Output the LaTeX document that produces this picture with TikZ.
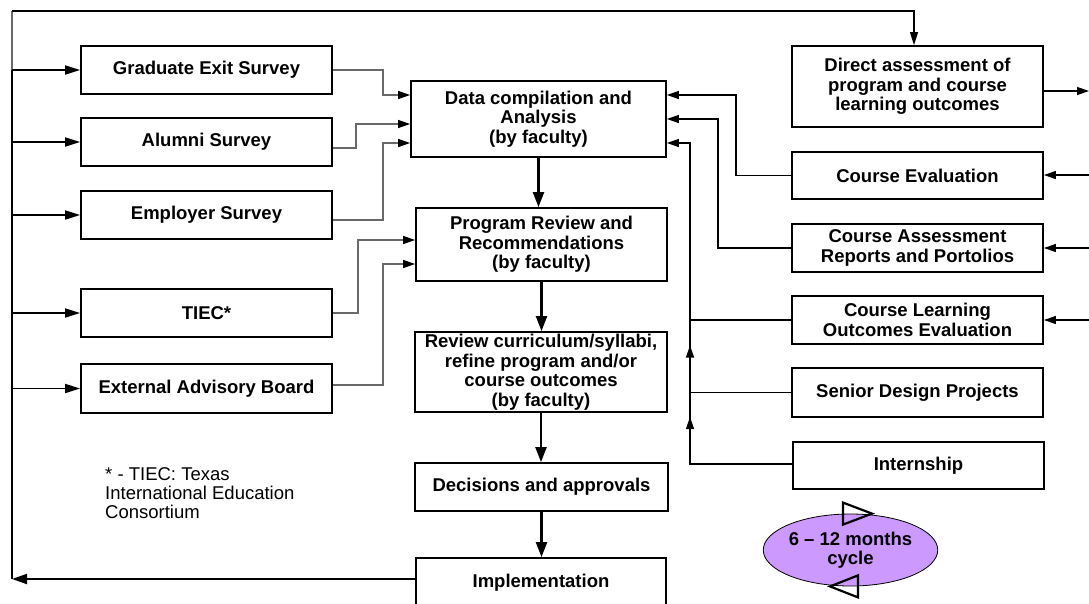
\documentclass[tikz,border=0pt]{standalone}
\usepackage{fontspec}
\setmainfont{Liberation Sans}
\usetikzlibrary{arrows.meta,shapes.geometric}
\definecolor{cyclefill}{RGB}{204,153,255}
\definecolor{lgray}{RGB}{105,105,105}
\tikzset{
  box/.style={draw=black, line width=1.8pt, fill=white, inner sep=0pt, align=center,
    font=\bfseries\fontsize{18.5}{19.5}\selectfont},
  wh/.style 2 args={minimum width=#1pt, minimum height=#2pt},
  gconn/.style={draw=lgray, line width=1.2pt, -{Triangle[length=12pt,width=8pt,color=black]}},
  rconn/.style={draw=black, line width=1.3pt, -{Triangle[length=12pt,width=8pt]}},
  plain/.style={draw=black, line width=1.2pt},
  branch/.style={draw=black, line width=1.8pt, -{Triangle[length=15pt,width=9pt]}},
  bigarrow/.style={draw=black, line width=2.2pt, -{Triangle[length=15pt,width=11pt]}},
  tri/.style={draw=black, line width=2.2pt, line join=miter},
}
\begin{document}
\begin{tikzpicture}[x=1pt,y=-1pt]
\useasboundingbox (0,0) rectangle (1089,603);
\clip (0,0) rectangle (1089,603);

% left boxes
\node[box, wh={251}{48}] (ges) at (206.5,70) {Graduate Exit Survey};
\node[box, wh={251}{48}] (alu) at (206.5,142) {Alumni Survey};
\node[box, wh={251}{48}] (emp) at (206.5,215) {Employer Survey};
\node[box, wh={251}{48}] (tiec) at (206.5,313) {TIEC*};
\node[box, wh={251}{49}] (eab) at (206.5,388.5) {External Advisory Board};

% centre column
\node[box, wh={255}{76}] (dc) at (538.5,119) {Data compilation and\\Analysis\\(by faculty)};
\node[box, wh={251}{73}] (pr) at (541.5,244.5) {Program Review and\\Recommendations\\(by faculty)};
\node[box, wh={252}{80}] (rc) at (541,372) {Review curriculum/syllabi,\\refine program and/or\\course outcomes\\(by faculty)};
\node[box, wh={253}{48}] (dec) at (541.5,487) {Decisions and approvals};
\node[box, wh={250}{50}] (imp) at (541,583) {Implementation};

% right column
\node[box, wh={251}{81}] (da) at (917.5,86.5) {Direct assessment of\\program and course\\learning outcomes};
\node[box, wh={251}{47}] (ce) at (917.5,175.5) {Course Evaluation};
\node[box, wh={251}{48}] (car) at (917.5,248) {Course Assessment\\Reports and Portolios};
\node[box, wh={251}{48}] (clo) at (917.5,320) {Course Learning\\Outcomes Evaluation};
\node[box, wh={251}{49}] (sdp) at (917.5,392.5) {Senior Design Projects};
\node[box, wh={251}{47}] (int) at (918.5,465.5) {Internship};

% footnote
\node[anchor=north west, inner sep=0pt, align=left,
      font=\fontsize{18.5}{19}\selectfont] (note) at (105,467)
  {* - TIEC: Texas\\International Education\\Consortium};

% cycle ellipse
\node[ellipse, draw=black, line width=0.8pt, fill=cyclefill, wh={153}{72}, inner sep=0pt,
      align=center, font=\bfseries\fontsize{18.5}{19.5}\selectfont] (cyc) at (850.5,550)
  {6 -- 12 months\\cycle};
\draw[tri] ([xshift=-7.5pt]cyc.north) ++(0,-11) -- ++(29,11) -- ++(-29,11) -- cycle;
\draw[tri] ([xshift=7.5pt]cyc.south) ++(0,-11) -- ++(-28,11) -- ++(28,11) -- cycle;

% outer feedback loop
\coordinate (bl) at (12,579);
\coordinate (tl) at (12,11);
\draw[line width=2pt, -{Triangle[length=15pt,width=10pt]}] (imp.west |- bl) -- (bl);
\draw[line width=2pt] (bl) -- (12,70);
\draw[draw=lgray, line width=1.2pt] (12,70) -- (tl);
\draw[line width=1.2pt, -{Triangle[length=13pt,width=8pt]}] (tl) -| ([xshift=-3.5pt]da.north);
\foreach \n in {ges,alu,emp,tiec,eab}
  \draw[branch] (\n.west -| bl) -- (\n.west);

% left inputs to centre
\draw[gconn] (ges.east) -| (383,95) -- (dc.west |- 0,95);
\draw[gconn] (alu.east |- 0,148) -| (356,124) -- (dc.west |- 0,124);
\draw[gconn] (emp.east |- 0,220) -| (383,143) -- (dc.west |- 0,143);
\draw[gconn] (tiec.east) -| (358,240) -- (pr.west |- 0,240);
\draw[gconn] (eab.east |- 0,385) -| (383,264) -- (pr.west |- 0,264);

% centre chain
\draw[bigarrow] (dc.south) -- (dc.south |- pr.north);
\draw[bigarrow] (pr.south) -- (pr.south |- rc.north);
\draw[bigarrow] (rc.south) -- (rc.south |- dec.north);
\draw[bigarrow] (dec.south) -- (dec.south |- imp.north);

% right inputs to centre
\draw[rconn] (ce.west) -| (736,95) -- (dc.east |- 0,95);
\draw[rconn] (car.west) -| (718,119) -- (dc.east |- 0,119);
\draw[rconn] (clo.west) -| (690,143) -- (dc.east |- 0,143);
\draw[plain] (sdp.west) -| (690,320);
\draw[rconn] (sdp.west -| 690,0) ++(0,-20) -- ++(0,-27);
\draw[plain] (int.west |- 0,464) -| (690,393);
\draw[rconn] (690,464) -- (690,417);

% right edge arrows
\coordinate (o1) at (1089,91);
\coordinate (i1) at (1089,175);
\coordinate (i2) at (1089,248);
\coordinate (i3) at (1089,320);
\draw[rconn] (da.east |- o1) -- (o1);
\draw[rconn] (i1) -- (ce.east |- i1);
\draw[rconn] (i2) -- (car.east |- i2);
\draw[rconn] (i3) -- (clo.east |- i3);
\end{tikzpicture}
\end{document}
